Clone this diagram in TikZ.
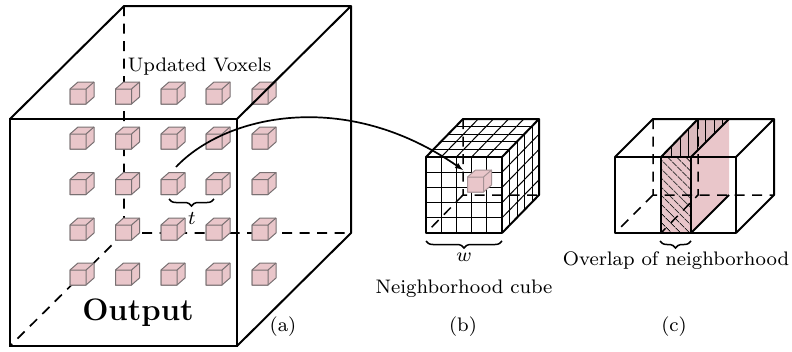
\documentclass[tikz,border=0pt]{standalone}
\usepackage{amsmath}
\usetikzlibrary{decorations.pathreplacing,patterns.meta}
\definecolor{voxelpink}{RGB}{233,198,202}
\definecolor{voxelgray}{RGB}{120,112,114}
\tikzstyle{edge} = [draw,line width=2pt,line join=round]
\tikzstyle{hidden} = [draw,line width=1.7pt,dash pattern=on 10pt off 7.5pt]
\tikzstyle{thin edge} = [draw,line width=1pt]
\tikzstyle{voxel} = [draw=voxelgray,fill=voxelpink,line width=1pt,line join=round]
\tikzstyle{label} = [inner sep=0pt,scale=2.45,font=\fontsize{8}{9.6}\selectfont]
\tikzstyle{curly} = [draw,line width=1.5pt,decorate,decoration={brace,mirror,amplitude=7pt}]
\newcommand{\voxelcube}[3][voxelgray]{
    \draw[voxel,draw=#1] (#2,#3) -- (#2+8,#3-7) -- (#2+24,#3-7) -- (#2+24,#3+8) -- (#2+16,#3+15) -- (#2,#3+15) -- cycle;
    \draw[voxel,draw=#1] (#2,#3) rectangle (#2+16,#3+15) (#2+16,#3) -- (#2+24,#3-7);
}
\begin{document}
\begin{tikzpicture}[x=1pt,y=-1pt]
    \useasboundingbox (0,0) rectangle (792,351);
    % output cube
    \draw[hidden] (124,6) -- (124,233) -- (351,233) (124,233) -- (10,346);
    \foreach \col in {70,115.5,161,206,252}
        \foreach \row in {89,134,179.5,225,270}
            \voxelcube{\col}{\row}
    \draw[edge] (10,119) rectangle (237,346);
    \draw[edge] (10,119) -- (124,6) -- (351,6) -- (351,233) -- (237,346) (237,119) -- (351,6);
    \node[label] (updated) at (199.5,67) {Updated Voxels};
    \node[inner sep=0pt,font=\fontsize{31}{37}\selectfont\bfseries] (output) at (138,313) {Output};
    \node[label] (a) at (283,327) {(a)};
    \coordinate (t1) at (169,199);
    \coordinate (t2) at (214,199);
    \draw[curly] (t1) -- (t2);
    \node[label] (t) at (192,218) {$t$};
    % neighborhood cube
    \draw[hidden,line width=1.5pt] (463,119) -- (463,195) -- (539,195) (463,195) -- (426,233);
    \foreach \i in {1,2,3,4} {
        \draw[thin edge] (426+15.2*\i,157) -- (426+15.2*\i,233);
        \draw[thin edge] (426,157+15.2*\i) -- (502,157+15.2*\i);
        \draw[thin edge] (426+15.2*\i,157) -- (463+15.2*\i,119);
        \draw[thin edge] (426+7.5*\i,157-7.6*\i) -- (502+7.5*\i,157-7.6*\i);
        \draw[thin edge] (502+7.5*\i,157-7.6*\i) -- (502+7.5*\i,233-7.6*\i);
        \draw[thin edge] (502,157+15.2*\i) -- (539,119+15.2*\i);
    }
    \voxelcube[voxelgray!60!voxelpink]{467.5}{177}
    \draw[edge] (426,157) rectangle (502,233);
    \draw[edge] (426,157) -- (463,119) -- (539,119) -- (539,195) -- (502,233) (502,157) -- (539,119);
    \coordinate (w1) at (426,241);
    \coordinate (w2) at (502,241);
    \draw[curly] (w1) -- (w2);
    \node[label] (w) at (464,257) {$w$};
    \node[label] (neighborhood) at (464,289) {Neighborhood cube};
    \node[label] (b) at (463,327) {(b)};
    % overlap
    \fill[voxelpink] (691,157) -- (729,119) -- (729,195) -- (691,233) -- cycle;
    \fill[voxelpink!94!black] (661,157) -- (698,119) -- (729,119) -- (691,157) -- cycle;
    \fill[voxelpink] (661,157) rectangle (691,233);
    \fill[pattern={Lines[angle=90,distance=8.5pt,line width=0.8pt]}] (661,157) -- (698,119) -- (729,119) -- (691,157) -- cycle;
    \fill[pattern={Lines[angle=-45,distance=6.5pt,line width=0.8pt]}] (661,157) rectangle (691,233);
    \draw[hidden,line width=1.5pt] (653,119) -- (653,195) -- (774,195) (653,195) -- (615,233);
    \draw[hidden,line width=1.5pt] (698,119) -- (698,195) -- (661,233);
    \draw[edge] (615,157) rectangle (736,233);
    \draw[edge] (615,157) -- (653,119) -- (774,119) -- (774,195) -- (736,233) (736,157) -- (774,119);
    \draw[edge] (661,157) -- (661,233) (691,157) -- (691,233);
    \draw[edge] (661,157) -- (698,119) (691,157) -- (729,119) (691,233) -- (729,195);
    \coordinate (c1) at (660,241);
    \coordinate (c2) at (691,241);
    \draw[curly] (c1) -- (c2);
    \node[label] (overlap) at (676,261) {Overlap of neighborhood};
    \node[label] (c) at (674,327) {(c)};
    % curved arrow
    \coordinate (from) at (176,167);
    \coordinate (to) at (463,170);
    \draw[line width=1.7pt,-latex] (from) .. controls (225,115) and (345,88) .. (to);
\end{tikzpicture}
\end{document}
